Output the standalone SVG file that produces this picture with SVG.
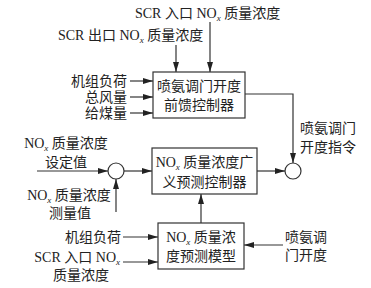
<svg xmlns="http://www.w3.org/2000/svg" width="371" height="288" viewBox="0 0 371 288">
<style>
text{font-family:"Liberation Serif","Noto Sans CJK SC",serif;font-size:14px;fill:#222}
.c{text-anchor:middle}
.e{text-anchor:end}
.box{fill:#fff;stroke:#333;stroke-width:1.2}
.ln{fill:none;stroke:#333;stroke-width:1.2;marker-end:url(#ah)}
.pl{fill:none;stroke:#333;stroke-width:1.2}
.sub{font-size:9px;font-style:italic}
</style>
<defs>
<marker id="ah" viewBox="0 0 10 6" refX="10" refY="3" markerWidth="10" markerHeight="6" markerUnits="userSpaceOnUse" orient="auto">
<path d="M0,0 L10,3 L0,6 Z" fill="#222"/>
</marker>
</defs>
<rect width="371" height="288" fill="#fff"/>
<g id="connectors">
<line class="ln" x1="210" y1="22" x2="210" y2="72"/>
<line class="ln" x1="176" y1="45" x2="176" y2="72"/>
<line class="ln" x1="130" y1="81" x2="153" y2="81"/>
<line class="ln" x1="130" y1="97" x2="153" y2="97"/>
<line class="ln" x1="130" y1="113" x2="153" y2="113"/>
<polyline class="ln" points="245,94 293,94 293,163"/>
<line class="ln" x1="37" y1="171" x2="108" y2="171"/>
<line class="ln" x1="116" y1="212" x2="116" y2="179"/>
<line class="ln" x1="124" y1="171" x2="152" y2="171"/>
<line class="ln" x1="257" y1="171" x2="285" y2="171"/>
<line class="ln" x1="201" y1="223" x2="201" y2="194"/>
<line class="ln" x1="123" y1="237" x2="158" y2="237"/>
<line class="ln" x1="123" y1="262" x2="158" y2="262"/>
<line class="ln" x1="283" y1="245" x2="244" y2="245"/>
</g>
<g id="label-scr-in"><text x="135" y="18">SCR 入口 NO<tspan class="sub" dy="3">x</tspan><tspan dy="-3"> 质量浓度</tspan></text></g>
<g id="label-scr-out"><text x="58" y="40">SCR 出口 NO<tspan class="sub" dy="3">x</tspan><tspan dy="-3"> 质量浓度</tspan></text></g>
<g id="label-ff-inputs">
<text class="e" x="127" y="86">机组负荷</text>
<text class="e" x="127" y="102">总风量</text>
<text class="e" x="127" y="118">给煤量</text>
</g>
<g id="ff-controller">
<rect class="box" x="153" y="72" width="92" height="46"/>
<text class="c" x="199" y="91">喷氨调门开度</text>
<text class="c" x="199" y="110">前馈控制器</text>
</g>
<g id="label-setpoint">
<text class="c" x="66" y="148">NO<tspan class="sub" dy="3">x</tspan><tspan dy="-3"> 质量浓度</tspan></text>
<text class="c" x="66" y="167">设定值</text>
</g>
<g id="label-measured">
<text class="c" x="69" y="200">NO<tspan class="sub" dy="3">x</tspan><tspan dy="-3"> 质量浓度</tspan></text>
<text class="c" x="70" y="218">测量值</text>
</g>
<g id="sum1"><circle class="pl" cx="116" cy="171" r="8" fill="#fff"/></g>
<g id="gpc">
<rect class="box" x="152" y="148" width="105" height="46"/>
<text class="c" x="204.5" y="167">NO<tspan class="sub" dy="3">x</tspan><tspan dy="-3"> 质量浓度广</tspan></text>
<text class="c" x="204.5" y="187">义预测控制器</text>
</g>
<g id="sum2"><circle class="pl" cx="293" cy="171" r="8" fill="#fff"/></g>
<g id="label-cmd">
<text x="300" y="133">喷氨调门</text>
<text x="300" y="152">开度指令</text>
</g>
<g id="model">
<rect class="box" x="158" y="223" width="86" height="46"/>
<text class="c" x="201" y="242">NO<tspan class="sub" dy="3">x</tspan><tspan dy="-3"> 质量浓</tspan></text>
<text class="c" x="201" y="261">度预测模型</text>
</g>
<g id="label-model-inputs">
<text class="e" x="121" y="242">机组负荷</text>
<text class="e" x="120" y="262">SCR 入口 NO<tspan class="sub" dy="3">x</tspan></text>
<text class="c" x="81" y="280">质量浓度</text>
</g>
<g id="label-valve">
<text class="c" x="306" y="242">喷氨调</text>
<text class="c" x="306" y="260">门开度</text>
</g>
</svg>
